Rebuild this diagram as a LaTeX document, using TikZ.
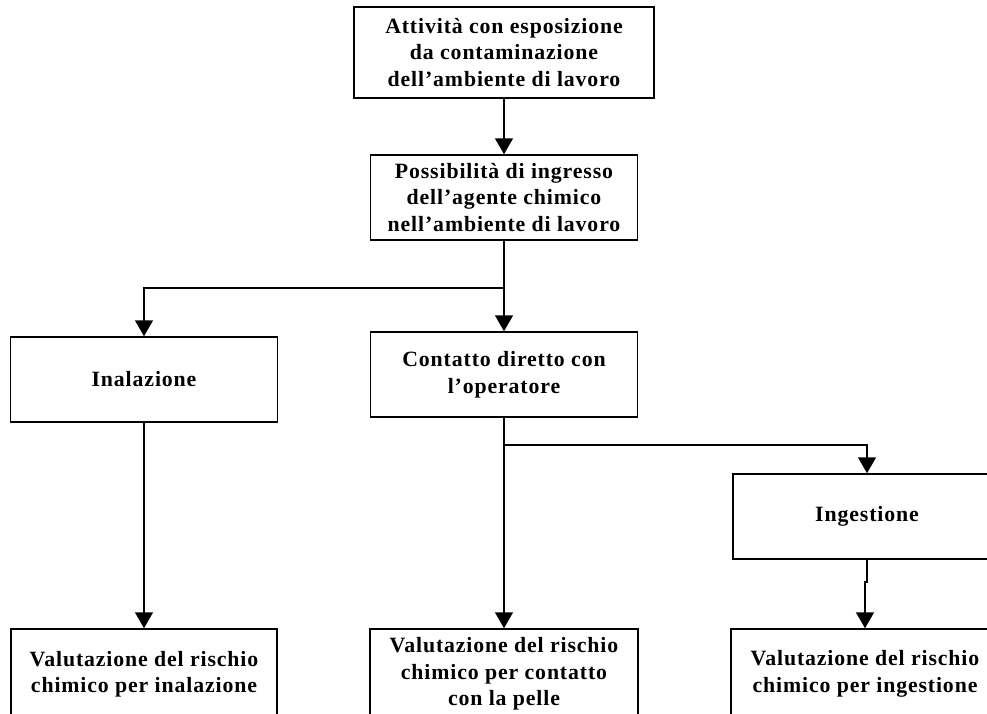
\documentclass[tikz,border=0pt]{standalone}
\usepackage{fontspec}
\setmainfont{Liberation Serif}[LetterSpace=4]
\usetikzlibrary{arrows.meta}
\begin{document}
\begin{tikzpicture}[x=1pt,y=-1pt,
  box/.style={draw, line width=1.5pt, rectangle, inner sep=0pt, align=center,
    font=\bfseries\fontsize{21.8}{26.5}\selectfont},
  wA/.style={minimum width=300pt, minimum height=91pt},
  wB/.style={minimum width=267pt, minimum height=85pt},
  wC/.style={minimum width=267pt, minimum height=90pt},
  conn/.style={line width=1.5pt},
  arr/.style={conn, -{Triangle[length=16pt,width=18pt]}}]
\useasboundingbox (0,0) rectangle (987,713);
\clip (0,0) rectangle (987,713);
\node[box,wA] (att) at (504,52.5) {Attività con esposizione\\da contaminazione\\dell'ambiente di lavoro};
\node[box,wB] (pos) at (504,197.5) {Possibilità di ingresso\\dell’agente chimico\\nell’ambiente di lavoro};
\node[box,wB] (ina) at (144,379.5) {Inalazione};
\node[box,wB] (con) at (504,374.5) {Contatto diretto con\\l’operatore};
\node[box,wB,minimum width=268pt] (ing) at (867,516.5) {Ingestione};
\node[box,wC,minimum width=266pt] (vina) at (144,674) {Valutazione del rischio\\chimico per inalazione};
\node[box,wC,minimum width=268pt] (vpel) at (504,674) {Valutazione del rischio\\chimico per contatto\\con la pelle};
\node[box,wC,minimum width=268pt] (ving) at (865,674) {Valutazione del rischio\\chimico per ingestione};
\coordinate (j1) at (504,288);
\coordinate (j2) at (504,445);
\draw[arr] (att.south) -- (pos.north);
\draw[conn] (pos.south) -- (j1);
\draw[arr] (j1) -| (ina.north);
\draw[arr] (j1) -- (con.north);
\draw[conn] (con.south) -- (j2);
\draw[arr] (j2) -| (ing.north);
\draw[arr] (j2) -- (vpel.north);
\draw[arr] (ina.south) -- (vina.north);
\draw[arr] (ing.south) -- ++(0,22) -- ++(-2,0) -- (ving.north);
\end{tikzpicture}
\end{document}
